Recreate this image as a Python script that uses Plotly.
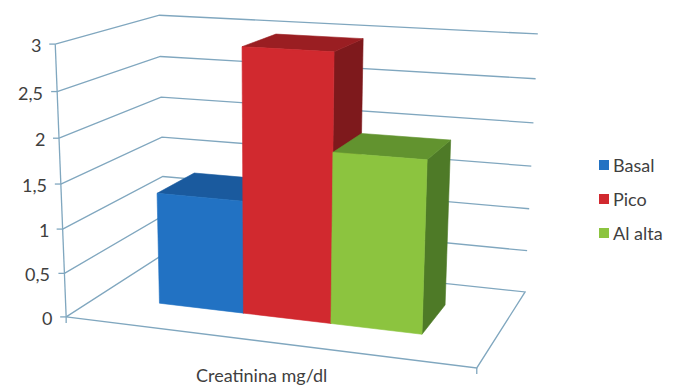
import numpy as np
import plotly.graph_objects as go

# ---- data -------------------------------------------------------------
category = "Creatinina mg/dl"
series_names = ["Basal", "Pico", "Al alta"]
series_values = [1.28, 2.96, 1.9]
y_ticks = [0, 0.5, 1, 1.5, 2, 2.5, 3]
y_tick_labels = ["0", "0,5", "1", "1,5", "2", "2,5", "3"]

# ---- styling ----------------------------------------------------------
face_colors = [
    {"front": "#2272C3", "top": "#1A5A9E", "side": "#164C86"},
    {"front": "#D1292F", "top": "#9A1E22", "side": "#7E191C"},
    {"front": "#8CC43F", "top": "#62932F", "side": "#4E7A27"},
]
grid_color = "#80A7BF"
text_color = "#3F3F3F"
font_family = "Lato, 'Open Sans', sans-serif"
W, H = 675, 385
z_max = y_ticks[-1]

# ---- 3-D box -> page projection ---------------------------------------
# Box coordinates: u across the category (0..1), v into the depth (0..1),
# z in value units. The frame anchors place the box corners on the page.
frame_world = [
    (0, 0, 0), (0, 0, 1.5), (0, 0, 3),
    (0, 1, 0), (0, 1, 1.5), (0, 1, 3),
    (1, 1, 0), (1, 1, 1.5), (1, 1, 3),
    (1, 0, 0),
]
frame_page = [
    (67, 317), (60, 183), (55, 45),
    (164, 254), (162, 137), (160, 15),
    (525, 292), (531, 166), (538, 34),
    (477, 368),
]


def fit_camera(world, page):
    pts = np.array(page, float)
    mean = pts.mean(axis=0)
    scale = np.sqrt(2) / np.mean(np.linalg.norm(pts - mean, axis=1))
    T = np.array([[scale, 0, -scale * mean[0]],
                  [0, scale, -scale * mean[1]],
                  [0, 0, 1]])
    rows = []
    for (X, Y, Z), (x, y) in zip(world, page):
        Z = Z / z_max
        x, y, _ = T @ np.array([x, y, 1.0])
        rows.append([X, Y, Z, 1, 0, 0, 0, 0, -x * X, -x * Y, -x * Z, -x])
        rows.append([0, 0, 0, 0, X, Y, Z, 1, -y * X, -y * Y, -y * Z, -y])
    _, _, vt = np.linalg.svd(np.array(rows, float))
    P = vt[-1].reshape(3, 4)
    return np.linalg.inv(T) @ P


CAM = fit_camera(frame_world, frame_page)


def project(pts):
    xs, ys = [], []
    for (u, v, z) in pts:
        p = CAM @ np.array([u, v, z / z_max, 1.0])
        xs.append(p[0] / p[2])
        ys.append(p[1] / p[2])
    return xs, ys


fig = go.Figure()


def add_line(pts, color=grid_color, width=1.3):
    xs, ys = project(pts)
    fig.add_trace(go.Scatter(x=xs, y=ys, mode="lines",
                             line=dict(color=color, width=width),
                             hoverinfo="skip", showlegend=False))


def add_face(pts, color):
    xs, ys = project(pts)
    fig.add_trace(go.Scatter(x=xs + xs[:1], y=ys + ys[:1], mode="lines",
                             fill="toself", fillcolor=color,
                             line=dict(color=color, width=0.6),
                             hoverinfo="skip", showlegend=False))


# floor outline
add_line([(0, 0, 0), (1, 0, 0), (1, 1, 0), (0, 1, 0), (0, 0, 0)])

# value gridlines on the side wall and the back wall
for t in y_ticks[1:]:
    add_line([(0, 0, t), (0, 1, t), (1, 1, t)])

# columns: gap width 150 %, gap depth 150 %
n = len(series_values)
slot = 1.0 / (n + 1.5)
v0, v1 = 0.3, 0.7
for i, (val, col) in enumerate(zip(series_values, face_colors)):
    u0 = (0.75 + i) * slot
    u1 = u0 + slot
    add_face([(u1, v0, 0), (u1, v1, 0), (u1, v1, val), (u1, v0, val)], col["side"])
    add_face([(u0, v0, val), (u1, v0, val), (u1, v1, val), (u0, v1, val)], col["top"])
    add_face([(u0, v0, 0), (u1, v0, 0), (u1, v0, val), (u0, v0, val)], col["front"])

# vertical value axis with tick marks and labels
add_line([(0, 0, 0), (0, 0, z_max)])
ax_x, ax_y = project([(0, 0, t) for t in y_ticks])
for x, y, lab in zip(ax_x, ax_y, y_tick_labels):
    fig.add_trace(go.Scatter(x=[x - 6, x], y=[y, y], mode="lines",
                             line=dict(color=grid_color, width=1.3),
                             hoverinfo="skip", showlegend=False))
    fig.add_annotation(x=x - 12, y=y + 1, text=lab, showarrow=False,
                       xanchor="right", yanchor="middle",
                       font=dict(family=font_family, size=18, color=text_color))

# category axis ticks at both ends of the front edge
cx, cy = project([(0, 0, 0), (1, 0, 0)])
for x, y in zip(cx, cy):
    fig.add_trace(go.Scatter(x=[x, x], y=[y, y + 6], mode="lines",
                             line=dict(color=grid_color, width=1.3),
                             hoverinfo="skip", showlegend=False))

# category label under the front edge
mx, _ = project([(0.5, 0, 0)])
fig.add_annotation(x=mx[0], y=375, text=category, showarrow=False,
                   xanchor="center", yanchor="middle",
                   font=dict(family=font_family, size=18, color=text_color))

# legend
leg_y = [165, 199, 233]
for name, col, y in zip(series_names, face_colors, leg_y):
    fig.add_trace(go.Scatter(x=[604], y=[y], mode="markers",
                             marker=dict(symbol="square", size=10, color=col["front"]),
                             hoverinfo="skip", showlegend=False))
    fig.add_annotation(x=611, y=y, text=name, showarrow=False,
                       xanchor="left", yanchor="middle",
                       font=dict(family=font_family, size=18, color=text_color))

fig.update_layout(
    width=W, height=H,
    margin=dict(l=0, r=0, t=0, b=0),
    paper_bgcolor="white", plot_bgcolor="white",
    xaxis=dict(range=[0, W], visible=False, fixedrange=True),
    yaxis=dict(range=[H, 0], visible=False, fixedrange=True),
    showlegend=False,
)

fig.write_html("out.html")
